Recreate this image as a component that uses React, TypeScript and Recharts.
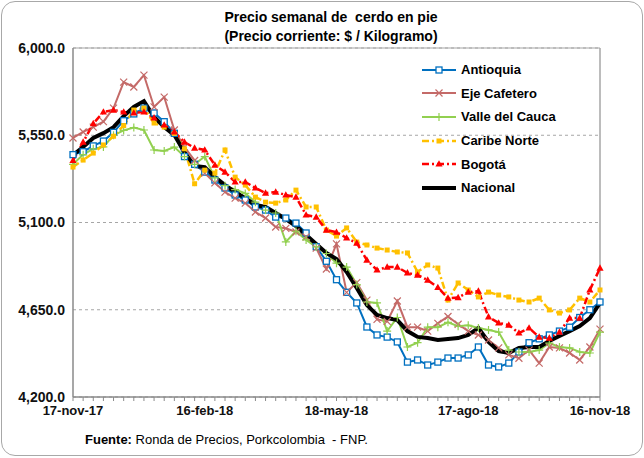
import {
  CartesianGrid,
  Legend,
  Line,
  LineChart,
  ReferenceLine,
  XAxis,
  YAxis,
} from "recharts";

// semanas: 17-nov-17 ... 16-nov-18 (53 semanas)
const TICK_LABELS = ["17-nov-17", "16-feb-18", "18-may-18", "17-ago-18", "16-nov-18"];
const TICK_STEP = 13;
const Y_TICKS = [4200, 4650, 5100, 5550, 6000];

const ANTIOQUIA = [
  5450, 5465, 5495, 5520, 5565, 5625, 5660, 5690, 5665, 5620, 5560, 5440, 5400,
  5360, 5319, 5278, 5242, 5216, 5180, 5164, 5128, 5123, 5097, 5046,
  4975, 4900, 4805, 4740, 4685, 4561, 4520, 4509, 4484, 4380, 4391, 4365, 4380,
  4401, 4401, 4417, 4458, 4365, 4355, 4375, 4432,
  4480, 4500, 4520, 4540, 4560, 4610, 4650, 4690,
];
const EJE_CAFETERO = [
  5536, 5567, 5592, 5620, 5690, 5824, 5799, 5860, 5696, 5747, 5577, 5489, 5420,
  5355, 5304, 5257, 5226, 5200, 5154, 5123, 5077, 5070, 5051, 5025, 4968, 4860,
  4990, 4740, 4790, 4700, 4600, 4590, 4695, 4560, 4560, 4540, 4580, 4615, 4575,
  4540, 4520, 4494, 4453, 4417, 4400, 4442, 4375, 4458, 4453, 4427, 4391, 4458,
  4550,
];
const VALLE_CAUCA = [
  5400, 5450, 5480, 5490, 5550, 5575, 5590, 5577, 5474, 5469, 5489, 5440, 5400,
  5440, 5330, 5290, 5270, 5250, 5205, 5164, 5149, 5000, 5055, 5010, 4974, 4940,
  4890, 4870, 4780, 4690, 4685, 4540, 4610, 4458, 4480, 4560, 4560, 4585, 4565,
  4570, 4556, 4546, 4535, 4442, 4432, 4432, 4442, 4478, 4458, 4453, 4432, 4427,
  4535,
];
const CARIBE_NORTE = [
  5386, 5422, 5458, 5500, 5545, 5600, 5680, 5690, 5613, 5592, 5560, 5480, 5300,
  5370, 5355, 5474, 5334, 5293, 5231, 5205, 5200, 5216, 5267, 5180, 5180, 5061,
  5030, 5072, 4999, 4984, 4968, 4958, 4948, 4943, 4845, 4881, 4865, 4700, 4788,
  4752, 4716, 4741, 4726, 4716, 4700, 4690, 4710, 4649, 4633, 4649, 4710, 4690,
  4752,
];
const BOGOTA = [
  5420, 5515, 5610, 5670, 5680, 5670, 5665, 5670, 5640, 5603, 5567, 5515, 5484,
  5474, 5396, 5360, 5309, 5309, 5278, 5252, 5257, 5242, 5231, 5139, 5128, 5061,
  5050, 5020, 4994, 4906, 4855, 4870, 4870, 4840, 4829, 4803, 4765, 4710, 4713,
  4741, 4746, 4613, 4582, 4571, 4530, 4556, 4509, 4504, 4535, 4607, 4607, 4752,
  4865,
];
const NACIONAL = [
  5448, 5489, 5536, 5561, 5592, 5649, 5696, 5726, 5644, 5592, 5551, 5463, 5391,
  5386, 5334, 5293, 5257, 5226, 5190, 5180, 5149, 5118, 5082, 5035, 4989, 4943,
  4912, 4845, 4762, 4674, 4623, 4607, 4597, 4540, 4510, 4504, 4494, 4499, 4504,
  4520, 4556, 4484, 4437, 4427, 4453, 4458, 4458, 4489, 4515, 4540, 4566, 4607,
  4685,
];

const rows = NACIONAL.map((v, i) => ({
  idx: i,
  antioquia: ANTIOQUIA[i],
  eje: EJE_CAFETERO[i],
  valle: VALLE_CAUCA[i],
  caribe: CARIBE_NORTE[i],
  bogota: BOGOTA[i],
  nacional: v,
}));
const X_TICKS = rows.map((r) => r.idx);

const C = {
  antioquia: "#0070C0",
  eje: "#C46A68",
  valle: "#92D050",
  caribe: "#FFC000",
  bogota: "#FF0000",
  nacional: "#000000",
};

const FONT = "'Liberation Sans', Arial, sans-serif";

type Marker = "square" | "x" | "plus" | "fsquare" | "triangle" | "none";

function drawMarker(kind: Marker, cx: number, cy: number, color: string, key?: any) {
  switch (kind) {
    case "square":
      return <rect key={key} x={cx - 3} y={cy - 3} width={6} height={6} fill="#fff" stroke={color} strokeWidth={1.3} />;
    case "fsquare":
      return <rect key={key} x={cx - 2.5} y={cy - 2.5} width={5} height={5} fill={color} />;
    case "triangle":
      return <path key={key} d={`M${cx},${cy - 3.8}L${cx + 3.6},${cy + 2.6}L${cx - 3.6},${cy + 2.6}Z`} fill={color} />;
    case "x":
      return (
        <path key={key} d={`M${cx - 3.5},${cy - 3.5}L${cx + 3.5},${cy + 3.5}M${cx + 3.5},${cy - 3.5}L${cx - 3.5},${cy + 3.5}`} stroke={color} strokeWidth={1.2} />
      );
    case "plus":
      return <path key={key} d={`M${cx - 4},${cy}L${cx + 4},${cy}M${cx},${cy - 4}L${cx},${cy + 4}`} stroke={color} strokeWidth={1.2} />;
    default:
      return <g key={key} />;
  }
}

const dotFor = (kind: Marker, color: string) => (p: any) =>
  drawMarker(kind, p.cx, p.cy, color, p.key ?? `${kind}-${p.index}`);

const SERIES: Array<{ key: string; name: string; marker: Marker; width: number; dash?: string }> = [
  { key: "antioquia", name: "Antioquia", marker: "square", width: 2 },
  { key: "eje", name: "Eje Cafetero", marker: "x", width: 2 },
  { key: "valle", name: "Valle del Cauca", marker: "plus", width: 2 },
  { key: "caribe", name: "Caribe Norte", marker: "fsquare", width: 2.5, dash: "7 3 2 3" },
  { key: "bogota", name: "Bogotá", marker: "triangle", width: 2.5, dash: "7 3 2 3" },
  { key: "nacional", name: "Nacional", marker: "none", width: 4 },
];

function LegendBox() {
  return (
    <div style={{ fontFamily: FONT, fontWeight: "bold", fontSize: 13, color: "#000" }}>
      {SERIES.map((s) => {
        const color = (C as any)[s.key];
        return (
          <div key={s.key} style={{ display: "flex", alignItems: "center", height: 23.6 }}>
            <svg width={38} height={12} style={{ marginRight: 2 }}>
              <line x1={1} y1={6} x2={35} y2={6} stroke={color} strokeWidth={s.width} strokeDasharray={s.dash} />
              {drawMarker(s.marker, 18, 6, color)}
            </svg>
            <span>{s.name}</span>
          </div>
        );
      })}
    </div>
  );
}

export default function App() {
  return (
    <div style={{ position: "absolute", left: 0, top: 0, width: 644, height: 458, background: "#fff" }}>
      <div
        style={{
          position: "absolute",
          left: 1,
          top: 1,
          width: 640,
          height: 453,
          border: "1px solid #a8a8a8",
          borderRadius: 14,
        }}
      />
      <div
        style={{
          position: "absolute",
          left: 0,
          top: 8,
          width: 662,
          textAlign: "center",
          fontFamily: FONT,
          fontWeight: "bold",
          fontSize: 14,
          lineHeight: "19px",
          color: "#000",
        }}
      >
        <div>Precio semanal de&nbsp; cerdo en pie</div>
        <div>(Precio corriente: $ / Kilogramo)</div>
      </div>
      <LineChart width={644} height={458} data={rows} margin={{ top: 48, right: 44, bottom: 31, left: 0 }}>
        <CartesianGrid vertical={false} stroke="#a6a6a6" strokeDasharray="3 3" />
        <XAxis
          dataKey="idx"
          type="number"
          domain={[0, 52]}
          ticks={X_TICKS}
          interval={0}
          height={30}
          tickSize={4}
          tickMargin={5}
          axisLine={{ stroke: "#8a8a8a", strokeWidth: 1.5 }}
          tickLine={{ stroke: "#8a8a8a" }}
          tick={{ fontFamily: FONT, fontSize: 13, fontWeight: "bold", fill: "#111" }}
          tickFormatter={(i: number) => (i % TICK_STEP === 0 ? TICK_LABELS[i / TICK_STEP] : "")}
        />
        <YAxis
          domain={[4200, 6000]}
          ticks={Y_TICKS}
          width={73}
          tickLine={false}
          tickSize={0}
          tickMargin={8}
          axisLine={{ stroke: "#8a8a8a", strokeWidth: 1.5 }}
          tick={{ fontFamily: FONT, fontSize: 14, fontWeight: "bold", fill: "#111" }}
          tickFormatter={(v: number) =>
            v.toLocaleString("en-US", { minimumFractionDigits: 1, maximumFractionDigits: 1 })
          }
        />
        <ReferenceLine y={6000} stroke="#a6a6a6" strokeWidth={1.2} />
        <ReferenceLine x={52} stroke="#a6a6a6" strokeWidth={1.5} />
        {SERIES.map((s) => (
          <Line
            key={s.key}
            dataKey={s.key}
            name={s.name}
            type="linear"
            stroke={(C as any)[s.key]}
            strokeWidth={s.width}
            strokeDasharray={s.dash}
            dot={s.marker === "none" ? false : dotFor(s.marker, (C as any)[s.key])}
            activeDot={false}
            isAnimationActive={false}
          />
        ))}
        <Legend
          layout="vertical"
          align="center"
          verticalAlign="middle"
          content={() => <LegendBox />}
          wrapperStyle={{ position: "absolute", left: 421, top: 58, width: 180 }}
        />
      </LineChart>
      <div
        style={{
          position: "absolute",
          left: 85,
          top: 432,
          fontFamily: FONT,
          fontSize: 13,
          color: "#000",
          whiteSpace: "pre",
        }}
      >
        <b>Fuente:</b> Ronda de Precios, Porkcolombia  - FNP.
      </div>
    </div>
  );
}
